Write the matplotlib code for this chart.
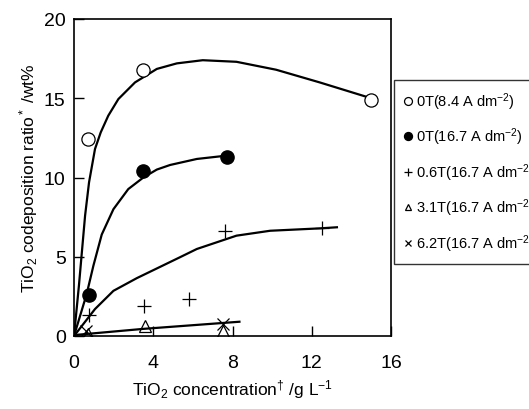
import matplotlib
matplotlib.use("Agg")
import matplotlib.pyplot as plt

plt.rcParams['font.family'] = ['Liberation Sans', 'DejaVu Sans']
plt.rcParams['mathtext.fontset'] = 'custom'
plt.rcParams['mathtext.rm'] = 'Liberation Sans'
plt.rcParams['mathtext.it'] = 'Liberation Sans'

# measured points
x_open = [0.7, 3.5, 15.0]
y_open = [12.4, 16.8, 14.9]
x_fill = [0.75, 3.5, 7.7]
y_fill = [2.6, 10.4, 11.3]
x_plus = [0.75, 3.55, 5.8, 7.6, 12.5]
y_plus = [1.3, 1.9, 2.35, 6.6, 6.8]
x_tri = [0.7, 3.6, 7.5]
y_tri = [0.1, 0.6, 0.3]
x_cross = [0.6, 7.5]
y_cross = [0.3, 0.75]

# fitted curves
cx_open = [0, 0.25, 0.56, 0.76, 1.06, 1.35, 1.73, 2.24, 3.08, 4.18, 5.19, 6.5, 8.2, 10.2, 12.4, 15.0]
cy_open = [0, 3.2, 7.6, 9.7, 11.8, 12.85, 13.9, 14.95, 16.0, 16.85, 17.2, 17.4, 17.3, 16.8, 16.0, 15.0]
cx_fill = [0, 0.64, 0.98, 1.4, 1.99, 2.74, 3.5, 4.18, 4.85, 6.2, 7.63]
cy_fill = [0, 2.65, 4.44, 6.4, 8.0, 9.27, 10.0, 10.5, 10.79, 11.17, 11.37]
cx_plus = [0, 1.06, 1.99, 3.17, 5.35, 6.2, 8.2, 9.9, 12.4, 13.27]
cy_plus = [0, 1.7, 2.85, 3.65, 4.97, 5.49, 6.33, 6.64, 6.79, 6.86]
cx_low = [0, 0.2, 3.5, 8.35]
cy_low = [0, 0.08, 0.45, 0.9]

labels = ["0T(8.4 A dm$^{-2}$)", "0T(16.7 A dm$^{-2}$)", "0.6T(16.7 A dm$^{-2}$)",
          "3.1T(16.7 A dm$^{-2}$)", "6.2T(16.7 A dm$^{-2}$)"]

fig = plt.figure(figsize=(5.29, 4.10), dpi=100)
ax = fig.add_axes([74 / 529, 73 / 410, 317 / 529, 317 / 410])

for cx, cy in [(cx_open, cy_open), (cx_fill, cy_fill), (cx_plus, cy_plus), (cx_low, cy_low)]:
    ax.plot(cx, cy, color='black', lw=1.6, solid_joinstyle='round')

h1, = ax.plot(x_open, y_open, 'o', mfc='white', mec='black', ms=9.5, mew=0.9, ls='none')
h2, = ax.plot(x_fill, y_fill, 'o', mfc='black', mec='black', ms=9.5, ls='none')
h3, = ax.plot(x_plus, y_plus, '+', color='black', ms=10, mew=0.9, ls='none')
h4, = ax.plot(x_tri, y_tri, '^', mfc='none', mec='black', ms=8, mew=0.9, ls='none')
h5, = ax.plot(x_cross, y_cross, 'x', color='black', ms=8, mew=0.9, ls='none')

ax.set_xlim(0, 16)
ax.set_ylim(0, 20)
ax.set_xticks([0, 4, 8, 12, 16])
ax.set_yticks([0, 5, 10, 15, 20])
ax.tick_params(direction='in', length=7, width=1, labelsize=14)
ax.tick_params(axis='x', pad=13)
ax.tick_params(axis='y', pad=6)
for s in ax.spines.values():
    s.set_linewidth(1.2)

ax.set_xlabel("TiO$_2$ concentration$^{\u2020}$ /g L$^{-1}$", fontsize=12.5, labelpad=4)
ax.set_ylabel("TiO$_2$ codeposition ratio$^*$ /wt%", fontsize=12.5, labelpad=3)

# the legend runs past the right edge of the figure, as in the original
leg = fig.legend([h1, h2, h3, h4, h5], labels, loc='upper left',
                 bbox_to_anchor=(394 / 529, 1 - 81 / 410), fontsize=10.5,
                 frameon=True, fancybox=False, edgecolor='black',
                 labelspacing=0.95, handlelength=0.5, handletextpad=0.3,
                 borderpad=0.7, markerscale=0.6, borderaxespad=0)
leg.get_frame().set_linewidth(1.0)

fig.savefig("out.png", dpi=100)
